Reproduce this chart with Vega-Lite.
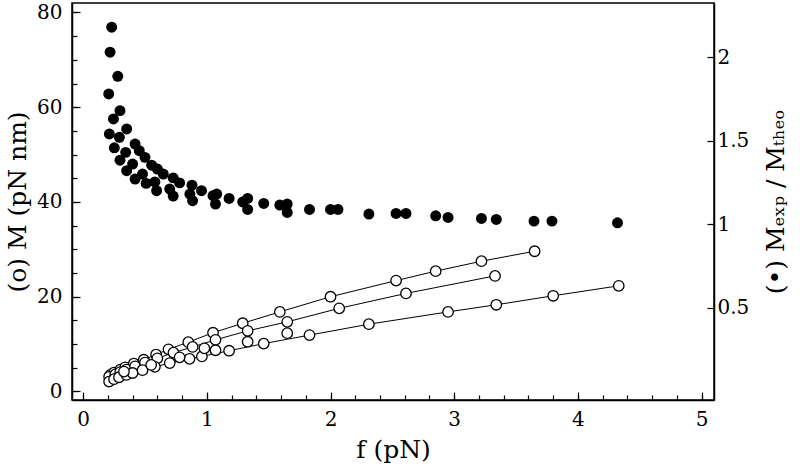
{
  "$schema": "https://vega.github.io/schema/vega-lite/v6.json",
  "width": 642,
  "height": 397,
  "autosize": {"type": "none"},
  "padding": {"left": 72, "top": 3, "right": 86, "bottom": 72},
  "background": "white",
  "config": {
    "view": {"stroke": "black", "strokeWidth": 1.5},
    "font": "DejaVu Serif, serif",
    "axis": {
      "domainColor": "black", "domainWidth": 1.5, "tickColor": "black", "tickWidth": 1.2,
      "labelColor": "black", "titleColor": "black",
      "labelFont": "DejaVu Serif, serif", "titleFont": "DejaVu Serif, serif",
      "labelFontSize": 20, "titleFontSize": 25, "titleFontWeight": "normal", "grid": false
    }
  },
  "datasets": {
    "ratio": [
      {"f":0.231,"r":2.18},{"f":0.218,"r":2.03},{"f":0.28,"r":1.886},{"f":0.207,"r":1.78},{"f":0.298,"r":1.68},
      {"f":0.245,"r":1.63},{"f":0.352,"r":1.57},{"f":0.212,"r":1.54},{"f":0.293,"r":1.52},{"f":0.42,"r":1.48},
      {"f":0.252,"r":1.457},{"f":0.454,"r":1.44},{"f":0.344,"r":1.43},{"f":0.50,"r":1.40},{"f":0.298,"r":1.383},
      {"f":0.40,"r":1.36},{"f":0.554,"r":1.353},{"f":0.60,"r":1.33},{"f":0.352,"r":1.32},{"f":0.48,"r":1.30},
      {"f":0.648,"r":1.30},{"f":0.42,"r":1.27},{"f":0.728,"r":1.277},{"f":0.51,"r":1.244},{"f":0.78,"r":1.247},
      {"f":0.58,"r":1.253},{"f":0.594,"r":1.2},{"f":0.70,"r":1.21},{"f":0.88,"r":1.233},{"f":0.957,"r":1.2},
      {"f":0.863,"r":1.18},{"f":0.728,"r":1.168},{"f":0.885,"r":1.14},{"f":1.05,"r":1.17},{"f":1.07,"r":1.12},
      {"f":1.08,"r":1.18},{"f":1.18,"r":1.154},{"f":1.29,"r":1.133},{"f":1.33,"r":1.154},{"f":1.33,"r":1.088},
      {"f":1.46,"r":1.124},{"f":1.59,"r":1.114},{"f":1.65,"r":1.12},{"f":1.65,"r":1.07},{"f":1.83,"r":1.088},
      {"f":2.0,"r":1.088},{"f":2.06,"r":1.088},{"f":2.31,"r":1.06},{"f":2.53,"r":1.064},{"f":2.61,"r":1.064},
      {"f":2.85,"r":1.05},{"f":2.95,"r":1.04},{"f":3.22,"r":1.034},{"f":3.34,"r":1.028},{"f":3.645,"r":1.018},
      {"f":3.79,"r":1.018},{"f":4.32,"r":1.008}
    ],
    "moment": [
      {"s":"A","f":0.22,"M":3.5},{"s":"A","f":0.25,"M":4.0},{"s":"A","f":0.30,"M":4.6},{"s":"A","f":0.34,"M":5.1},
      {"s":"A","f":0.41,"M":5.9},{"s":"A","f":0.49,"M":6.7},{"s":"A","f":0.59,"M":7.8},{"s":"A","f":0.69,"M":8.9},
      {"s":"A","f":0.85,"M":10.4},{"s":"A","f":1.05,"M":12.4},{"s":"A","f":1.29,"M":14.4},{"s":"A","f":1.59,"M":16.8},
      {"s":"A","f":2.0,"M":20.0},{"s":"A","f":2.53,"M":23.4},{"s":"A","f":2.85,"M":25.4},{"s":"A","f":3.22,"M":27.5},
      {"s":"A","f":3.65,"M":29.6},
      {"s":"B","f":0.21,"M":3.1},{"s":"B","f":0.26,"M":3.6},{"s":"B","f":0.30,"M":4.1},{"s":"B","f":0.35,"M":4.6},
      {"s":"B","f":0.42,"M":5.3},{"s":"B","f":0.50,"M":6.1},{"s":"B","f":0.60,"M":7.0},{"s":"B","f":0.73,"M":8.2},
      {"s":"B","f":0.885,"M":9.4},{"s":"B","f":1.07,"M":10.9},{"s":"B","f":1.33,"M":12.8},{"s":"B","f":1.65,"M":14.7},
      {"s":"B","f":2.07,"M":17.55},{"s":"B","f":2.61,"M":20.7},{"s":"B","f":3.33,"M":24.4},
      {"s":"C","f":0.21,"M":2.1},{"s":"C","f":0.25,"M":2.6},{"s":"C","f":0.29,"M":3.0},{"s":"C","f":0.35,"M":3.5},
      {"s":"C","f":0.40,"M":3.9},{"s":"C","f":0.48,"M":4.5},{"s":"C","f":0.58,"M":5.2},{"s":"C","f":0.70,"M":6.0},
      {"s":"C","f":0.86,"M":6.9},{"s":"C","f":0.96,"M":7.4},{"s":"C","f":1.18,"M":8.6},{"s":"C","f":1.46,"M":10.1},
      {"s":"C","f":1.83,"M":11.9},{"s":"C","f":2.31,"M":14.2},{"s":"C","f":2.95,"M":16.8},{"s":"C","f":3.34,"M":18.3},
      {"s":"C","f":3.8,"M":20.2},{"s":"C","f":4.33,"M":22.3},
      {"s":"E","f":1.65,"M":12.3},{"s":"E","f":1.33,"M":10.5},{"s":"E","f":1.07,"M":8.7},{"s":"E","f":0.98,"M":9.1},
      {"s":"E","f":0.78,"M":7.2},{"s":"E","f":0.55,"M":5.6},{"s":"E","f":0.33,"M":4.2}
    ]
  },
  "resolve": {"scale": {"x": "independent", "y": "independent"}},
  "layer": [
    {
      "data": {"name": "moment"},
      "mark": {"type": "point", "opacity": 0},
      "encoding": {
        "x": {"field": "f", "type": "quantitative", "scale": {"domain": [-0.09, 5.1], "nice": false, "zero": false},
          "axis": {"orient": "bottom", "values": [0,0.2,0.4,0.6,0.8,1,1.2,1.4,1.6,1.8,2,2.2,2.4,2.6,2.8,3,3.2,3.4,3.6,3.8,4,4.2,4.4,4.6,4.8,5], "tickSize": -5, "labels": false, "domain": false, "title": null}},
        "y": {"field": "M", "type": "quantitative", "scale": {"domain": [-1.8, 82], "nice": false, "zero": false},
          "axis": {"orient": "left", "values": [0,5,10,15,20,25,30,35,40,45,50,55,60,65,70,75,80], "tickSize": -5, "labels": false, "domain": false, "title": null}}
      }
    },
    {
      "data": {"name": "moment"},
      "transform": [{"filter": "datum.s != 'E'"}],
      "mark": {"type": "line", "color": "black", "strokeWidth": 1},
      "encoding": {
        "x": {"field": "f", "type": "quantitative", "scale": {"domain": [-0.09, 5.1], "nice": false, "zero": false}, "axis": null},
        "y": {"field": "M", "type": "quantitative", "scale": {"domain": [-1.8, 82], "nice": false, "zero": false},
          "axis": {"orient": "left", "values": [0,20,40,60,80], "tickSize": -8, "labelPadding": 18, "title": "(o) M (pN nm)", "titlePadding": 6}},
        "detail": {"field": "s"}
      }
    },
    {
      "data": {"name": "moment"},
      "mark": {"type": "point", "shape": "circle", "size": 110, "filled": true, "fill": "white", "stroke": "black", "strokeWidth": 1.3, "opacity": 1},
      "encoding": {
        "x": {"field": "f", "type": "quantitative", "scale": {"domain": [-0.09, 5.1], "nice": false, "zero": false}, "axis": null},
        "y": {"field": "M", "type": "quantitative", "scale": {"domain": [-1.8, 82], "nice": false, "zero": false}, "axis": null}
      }
    },
    {
      "data": {"name": "ratio"},
      "mark": {"type": "point", "shape": "circle", "size": 120, "filled": true, "color": "black", "opacity": 1},
      "encoding": {
        "x": {"field": "f", "type": "quantitative", "scale": {"domain": [-0.09, 5.1], "nice": false, "zero": false},
          "axis": {"orient": "bottom", "values": [0,1,2,3,4,5], "format": "~g", "tickSize": -8, "labelPadding": 17, "title": "f (pN)", "titlePadding": 8}},
        "y": {"field": "r", "type": "quantitative", "scale": {"domain": [-0.054, 2.325], "nice": false, "zero": false},
          "axis": {"orient": "right", "values": [0.5, 1, 1.5, 2], "format": "~g", "tickSize": -7, "labelPadding": 10, "title": "(•) Mₑₓₚ / Mₜₕₑₒ", "titleAngle": 270, "titlePadding": 40}}
      }
    }
  ]
}
